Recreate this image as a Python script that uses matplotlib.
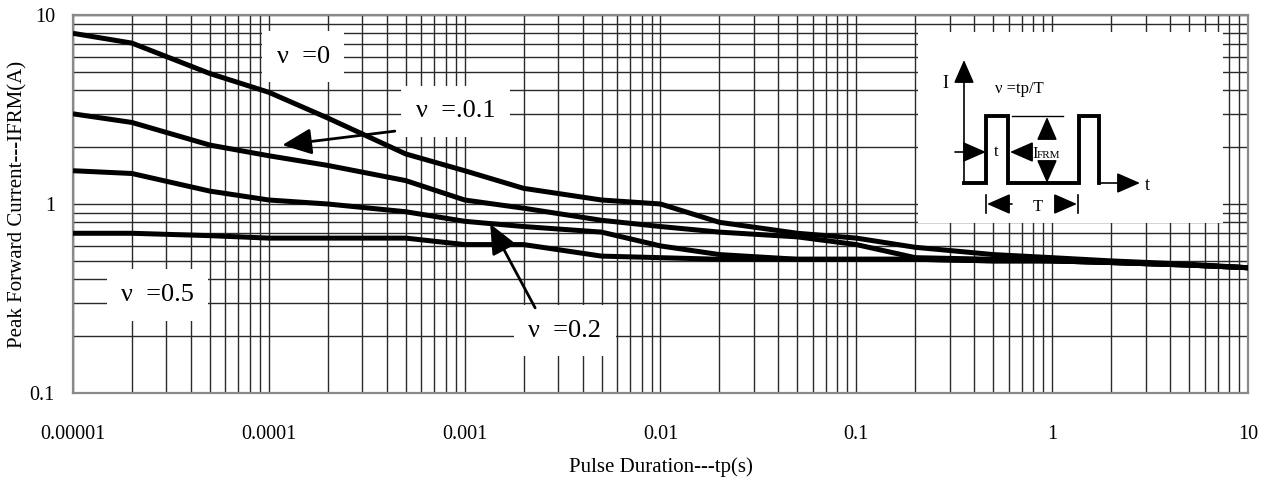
import matplotlib
matplotlib.use('Agg')
import matplotlib.pyplot as plt
from matplotlib.ticker import LogLocator, FixedLocator, FixedFormatter, NullFormatter

plt.rcParams['font.family'] = ['Liberation Serif', 'DejaVu Serif']

# pulse duration tp (s)
tp = [1e-5, 2e-5, 5e-5, 1e-4, 2e-4, 5e-4, 1e-3, 2e-3, 5e-3, 1e-2,
      2e-2, 5e-2, 0.1, 0.2, 0.5, 1, 2, 5, 10]

# peak forward current IFRM (A) for each duty cycle
i_d0 = [8.0, 7.1, 4.9, 3.9, 2.85, 1.84, 1.5, 1.21, 1.05, 1.0,
        0.80, 0.70, 0.66, 0.59, 0.54, 0.52, 0.50, 0.48, 0.46]
i_d01 = [3.0, 2.7, 2.05, 1.8, 1.6, 1.33, 1.05, 0.95, 0.82, 0.76,
         0.71, 0.67, 0.61, 0.52, 0.51, 0.50, 0.49, 0.475, 0.46]
i_d02 = [1.5, 1.45, 1.17, 1.05, 1.0, 0.91, 0.81, 0.76, 0.71, 0.60,
         0.54, 0.51, 0.51, 0.51, 0.50, 0.50, 0.49, 0.475, 0.46]
i_d05 = [0.70, 0.70, 0.68, 0.66, 0.66, 0.66, 0.61, 0.61, 0.53, 0.52,
         0.51, 0.51, 0.51, 0.51, 0.50, 0.50, 0.49, 0.475, 0.46]

xticks = [1e-5, 1e-4, 1e-3, 1e-2, 0.1, 1, 10]
xlabels = ['0.00001', '0.0001', '0.001', '0.01', '0.1', '1', '10']
yticks = [0.1, 1, 10]
ylabels = ['0.1', '1', '10']

# duty cycle labels: text, position, arrow tail, arrow tip
labels = ['ν  =0', 'ν  =.0.1', 'ν  =0.5', 'ν  =0.2']
label_pos = [(1.5e-4, 6.0), (9.0e-4, 3.1), (2.7e-5, 0.33), (3.25e-3, 0.213)]
arrow_tail = [None, (4.4e-4, 2.43), None, (2.29e-3, 0.282)]
arrow_tip = [None, (1.17e-4, 2.05), None, (1.35e-3, 0.784)]

fig = plt.figure(figsize=(12.64, 4.82), dpi=100)
ax = fig.add_axes([73 / 1264, 1 - 393 / 482, 1175 / 1264, 378 / 482])
ax.set_xscale('log')
ax.set_yscale('log')
ax.set_xlim(1e-5, 10)
ax.set_ylim(0.1, 10)

for y in [i_d0, i_d01, i_d02, i_d05]:
    ax.plot(tp, y, color='black', lw=3.6, solid_joinstyle='round',
            solid_capstyle='butt', zorder=3)

ax.xaxis.set_major_locator(FixedLocator(xticks))
ax.xaxis.set_major_formatter(FixedFormatter(xlabels))
ax.yaxis.set_major_locator(FixedLocator(yticks))
ax.yaxis.set_major_formatter(FixedFormatter(ylabels))
ax.xaxis.set_minor_locator(LogLocator(base=10, subs=range(2, 10), numticks=20))
ax.yaxis.set_minor_locator(LogLocator(base=10, subs=range(2, 10), numticks=20))
ax.xaxis.set_minor_formatter(NullFormatter())
ax.yaxis.set_minor_formatter(NullFormatter())
ax.tick_params(axis='x', which='both', length=0, pad=23, labelsize=14.5)
ax.tick_params(axis='y', which='both', length=0, pad=13, labelsize=14.5)
ax.set_axisbelow(True)
ax.grid(True, which='both', color='#2a2a2a', lw=1.0)
for s in ax.spines.values():
    s.set_color('#8a8a8a')
    s.set_linewidth(1.6)

ax.set_xlabel('Pulse Duration---tp(s)', fontsize=15, va='center')
ax.xaxis.set_label_coords(0.5, -0.195)
ax.set_ylabel('Peak Forward Current---IFRM(A)', fontsize=15, va='center')
ax.yaxis.set_label_coords(-0.047, 0.5)

for txt, pos, tail, tip in zip(labels, label_pos, arrow_tail, arrow_tip):
    ax.text(pos[0], pos[1], txt, fontsize=19, ha='center', va='center', zorder=2.5,
            bbox=dict(boxstyle='square,pad=0.55', fc='white', ec='none'))
    if tail is not None:
        ax.annotate('', xy=tip, xytext=tail, zorder=4,
                    arrowprops=dict(arrowstyle='-|>,head_length=0.9,head_width=0.4',
                                    color='black', lw=2.0, mutation_scale=20,
                                    shrinkA=0, shrinkB=0))

# pulse diagram inset (drawn in its own pixel-like coordinates)
ins = fig.add_axes([918 / 1264, 1 - 223 / 482, 305 / 1264, 191 / 482], zorder=5)
ins.set_xlim(918, 1223)
ins.set_ylim(223, 32)
ins.set_facecolor('white')
for s in ins.spines.values():
    s.set_visible(False)
ins.set_xticks([])
ins.set_yticks([])

wave_x = [964, 986, 986, 1008, 1008, 1079, 1079, 1099, 1099]
wave_y = [183, 183, 116, 116, 183, 183, 116, 116, 183]
ins.plot(wave_x, wave_y, color='black', lw=2.8, solid_joinstyle='miter')
ins.plot([1012, 1063], [116, 116], color='black', lw=1.0)
ins.plot([986, 986], [195, 213], color='black', lw=1.2)
ins.plot([1078, 1078], [195, 213], color='black', lw=1.2)

arr = dict(arrowstyle='-|>,head_length=0.8,head_width=0.35', color='black',
           lw=1.2, mutation_scale=18, shrinkA=0, shrinkB=0)
for tail, tip in [((964, 184), (964, 60)), ((1099, 183), (1140, 183)),
                  ((955, 152), (986, 152)), ((1026, 152), (1010, 152)),
                  ((1012, 204), (987, 204)), ((1062, 204), (1077, 204)),
                  ((1047, 137), (1047, 117)), ((1047, 166), (1047, 183))]:
    ins.annotate('', xy=tip, xytext=tail, arrowprops=arr)

ins.text(945, 83, 'I', fontsize=13, ha='center', va='center')
ins.text(1147, 185, 't', fontsize=13, ha='center', va='center')
ins.text(995, 89, 'ν =tp/T', fontsize=12, ha='left', va='center')
ins.text(996, 152, 't', fontsize=12, ha='center', va='center')
ins.text(1032, 154, 'I', fontsize=12, ha='left', va='center')
ins.text(1037, 155, 'FRM', fontsize=8, ha='left', va='center')
ins.text(1038, 207, 'T', fontsize=12, ha='center', va='center')

fig.savefig('out.png', dpi=100)
